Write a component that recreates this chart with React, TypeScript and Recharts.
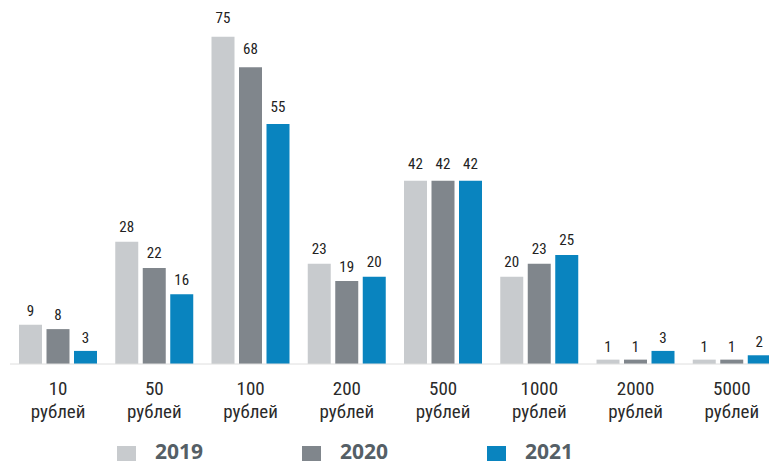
import React from "react";
import { BarChart, Bar, XAxis, YAxis, LabelList, Legend } from "recharts";

const categories = ["10", "50", "100", "200", "500", "1000", "2000", "5000"];
const unitLabel = "рублей";
const seriesNames = ["2019", "2020", "2021"];
const values2019 = [9, 28, 75, 23, 42, 20, 1, 1];
const values2020 = [8, 22, 68, 19, 42, 23, 1, 1];
const values2021 = [3, 16, 55, 20, 42, 25, 3, 2];
const colors = ["#c8cbce", "#80868c", "#0984bf"];

const data = categories.map((c, i) => ({
  name: c,
  "2019": values2019[i],
  "2020": values2020[i],
  "2021": values2021[i],
}));

const LABEL_FONT = "'Liberation Sans Narrow', 'Roboto Condensed', 'Roboto', sans-serif";

const Tick = (props: any) => {
  const { x, y, payload } = props;
  return (
    <text
      x={x}
      y={y}
      textAnchor="middle"
      fill="#2a2a2a"
      fontFamily={LABEL_FONT}
      fontSize={19}
    >
      <tspan x={x} dy={31}>{payload.value}</tspan>
      <tspan x={x} dy={23}>{unitLabel}</tspan>
    </text>
  );
};

const ValueLabel = (props: any) => {
  const { x, y, width, value } = props;
  const gap = 8 + Number(value) * 0.08;
  return (
    <text
      x={Number(x) + Number(width) / 2}
      y={Number(y) - gap}
      textAnchor="middle"
      fill="#222"
      fontFamily={LABEL_FONT}
      fontSize={15}
    >
      {value}
    </text>
  );
};

const LegendContent = () => (
  <div style={{ display: "flex", height: 20, lineHeight: "20px" }}>
    {seriesNames.map((n, i) => (
      <div key={n} style={{ display: "flex", width: 185, alignItems: "flex-start" }}>
        <div
          style={{
            width: 19,
            height: 15,
            marginTop: 5,
            background: colors[i],
            marginRight: 19,
          }}
        />
        <span
          style={{
            fontFamily: "'Open Sans', sans-serif",
            fontWeight: 700,
            fontSize: 21,
            color: "#555f66",
            lineHeight: "20px",
          }}
        >
          {n}
        </span>
      </div>
    ))}
  </div>
);

export default function App() {
  return (
    <div
      style={{
        position: "absolute",
        left: 0,
        top: 0,
        width: 769,
        height: 466,
        overflow: "hidden",
        background: "#fff",
      }}
    >
      <BarChart
        width={781}
        height={466}
        data={data}
        margin={{ top: 15, right: 1, left: 10, bottom: 0 }}
        barSize={23}
        barGap={4.5}
      >
        <XAxis
          dataKey="name"
          height={102}
          tickLine={false}
          tickSize={0}
          tickMargin={0}
          axisLine={{ stroke: "#dedede", strokeWidth: 1 }}
          tick={<Tick />}
          interval={0}
        />
        <YAxis hide domain={[0, 80]} width={0} />
        <Legend
          verticalAlign="middle"
          align="center"
          content={<LegendContent />}
          wrapperStyle={{ top: 441, left: 117, width: 600, height: 20 }}
        />
        {seriesNames.map((n, i) => (
          <Bar key={n} dataKey={n} fill={colors[i]} isAnimationActive={false}>
            <LabelList dataKey={n} content={<ValueLabel />} />
          </Bar>
        ))}
      </BarChart>
    </div>
  );
}
